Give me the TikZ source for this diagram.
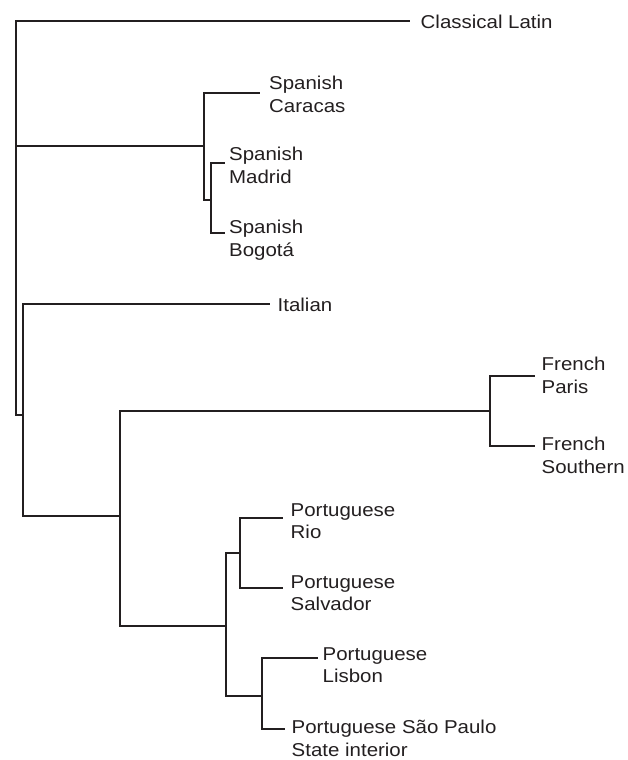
\documentclass[tikz,border=0pt]{standalone}
\usepackage{fontspec}
\setmainfont{Liberation Sans}[FakeStretch=1.1]
\definecolor{TreeInk}{RGB}{35,31,32}

\begin{document}
\begin{tikzpicture}[x=1pt, y=-1pt,
    branch/.style={draw=TreeInk, line width=1.9pt, line join=miter},
    lbl/.style={anchor=north west, inner sep=0pt, align=left, text=TreeInk,
                font=\fontsize{18.6}{22.5}\selectfont}]
    \useasboundingbox (0,0) rectangle (627,760);

    % inner points of the tree
    \coordinate (root) at (16,218);
    \coordinate (spa) at (204,146);
    \coordinate (spaMB) at (211,200);
    \coordinate (ita) at (23,415);
    \coordinate (frpt) at (120,516);
    \coordinate (fre) at (490,411);
    \coordinate (por) at (226,626);
    \coordinate (porBR) at (240,553);
    \coordinate (porPT) at (262,696);

    % leaf tips
    \coordinate (latin) at (410,21);
    \coordinate (caracas) at (260,93);
    \coordinate (madrid) at (225,163);
    \coordinate (bogota) at (225,233);
    \coordinate (italian) at (270,304);
    \coordinate (paris) at (535,376);
    \coordinate (southern) at (535,446);
    \coordinate (rio) at (283,518);
    \coordinate (salvador) at (283,588);
    \coordinate (lisbon) at (318,658);
    \coordinate (saopaulo) at (285,729);

    % labels
    \node[lbl] (lLatin) at (420.5,15) {Classical Latin};
    \node[lbl] (lCaracas) at (269,76) {Spanish\\Caracas};
    \node[lbl] (lMadrid) at (229,147) {Spanish\\Madrid};
    \node[lbl] (lBogota) at (229,220) {Spanish\\Bogotá};
    \node[lbl] (lItalian) at (277.5,298) {Italian};
    \node[lbl] (lParis) at (541.5,357) {French\\Paris};
    \node[lbl] (lSouthern) at (541.5,437) {French\\Southern};
    \node[lbl] (lRio) at (290.5,503) {Portuguese\\Rio};
    \node[lbl] (lSalvador) at (290.5,575) {Portuguese\\Salvador};
    \node[lbl] (lLisbon) at (322.5,647) {Portuguese\\Lisbon};
    \node[lbl] (lSaoPaulo) at (291.5,720) {Portuguese São Paulo\\State interior};

    % branches
    \draw[branch] (root) |- (latin);
    \draw[branch] (root) |- (spa);
    \draw[branch] (root) |- (ita);
    \draw[branch] (spa) |- (caracas);
    \draw[branch] (spa) |- (spaMB);
    \draw[branch] (spaMB) |- (madrid);
    \draw[branch] (spaMB) |- (bogota);
    \draw[branch] (ita) |- (italian);
    \draw[branch] (ita) |- (frpt);
    \draw[branch] (frpt) |- (fre);
    \draw[branch] (fre) |- (paris);
    \draw[branch] (fre) |- (southern);
    \draw[branch] (frpt) |- (por);
    \draw[branch] (por) |- (porBR);
    \draw[branch] (porBR) |- (rio);
    \draw[branch] (porBR) |- (salvador);
    \draw[branch] (por) |- (porPT);
    \draw[branch] (porPT) |- (lisbon);
    \draw[branch] (porPT) |- (saopaulo);
\end{tikzpicture}
\end{document}
